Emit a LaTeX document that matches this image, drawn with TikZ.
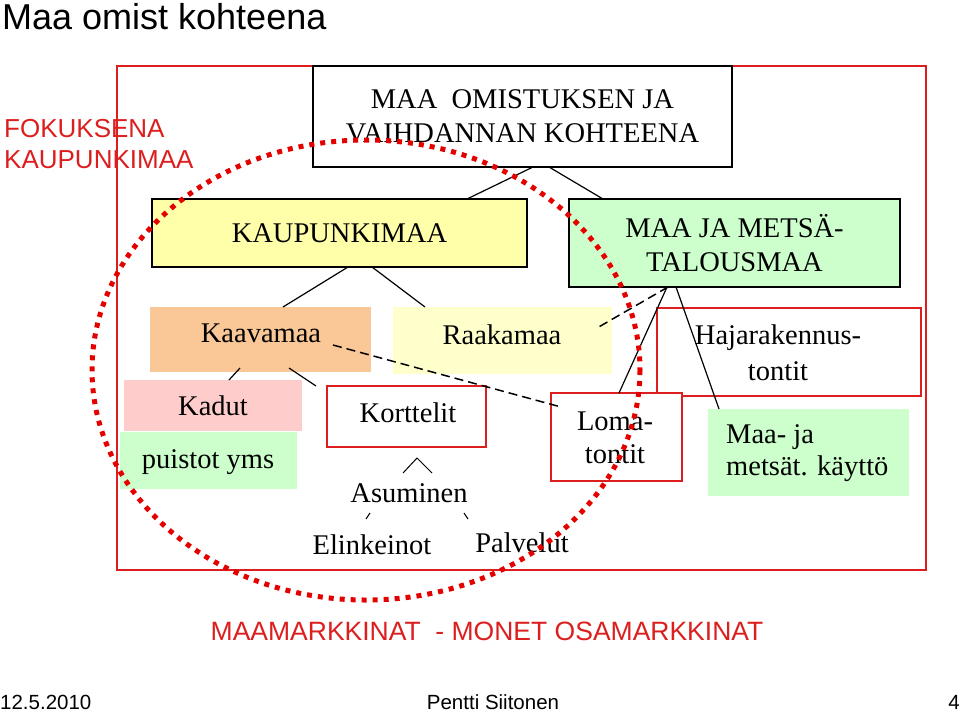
\documentclass[tikz,border=0pt]{standalone}
\usepackage{fontspec}
\setmainfont{Liberation Serif}
\newfontfamily\arial{Liberation Sans}
\definecolor{ly}{RGB}{255,255,170}
\definecolor{lly}{RGB}{255,255,204}
\definecolor{lg}{RGB}{204,255,204}
\definecolor{orng}{RGB}{250,200,150}
\definecolor{pnk}{RGB}{255,204,204}
\definecolor{rd}{RGB}{220,30,30}
\begin{document}
\begin{tikzpicture}[x=1pt,y=-1pt,
 bx/.style={draw=black,line width=1.2pt,inner sep=0pt,outer sep=0pt,align=center,font=\fontsize{28.5}{34}\selectfont},
 rbx/.style={draw=rd,line width=1.2pt,inner sep=0pt,outer sep=0pt},
 fbx/.style={inner sep=0pt,outer sep=0pt},
 txt/.style={inner sep=0pt,font=\fontsize{28.5}{34}\selectfont},
 ln/.style={line width=1.2pt},
 dl/.style={line width=1.5pt,dash pattern=on 9pt off 5pt}]
\useasboundingbox (0,0) rectangle (960,713);
\node[anchor=west,inner sep=0pt,font=\arial\fontsize{36}{40}\selectfont] (title) at (2,17) {Maa omist kohteena};
\draw[rd,line width=1.2pt] (117,66) rectangle (926,570);
\node[anchor=west,inner sep=0pt,align=left,text=rd,font=\arial\fontsize{26}{31}\selectfont] (fok) at (4,144) {FOKUKSENA\\KAUPUNKIMAA};
% boxes
\node[bx,fill=white,minimum width=419,minimum height=101] (top) at (522.5,116.5) {MAA \ OMISTUKSEN JA\\VAIHDANNAN KOHTEENA};
\node[bx,fill=ly,minimum width=375,minimum height=68] (kau) at (339.5,233) {KAUPUNKIMAA};
\node[bx,fill=lg,minimum width=331,minimum height=88] (mets) at (734.5,243) {MAA JA METSÄ-\\TALOUSMAA};
\node[fbx,fill=orng,minimum width=221,minimum height=65] (kaava) at (260.5,339.5) {};
\node[txt] at (261,333) {Kaavamaa};
\node[fbx,fill=lly,minimum width=219,minimum height=67] (raaka) at (502.5,340.5) {};
\node[txt] at (502,335) {Raakamaa};
\node[rbx,fill=white,minimum width=264,minimum height=88] (haja) at (789,352) {};
\node[txt,align=center,font=\fontsize{28.5}{36}\selectfont] at (778,353) {Hajarakennus-\\tontit};
\node[fbx,fill=pnk,minimum width=178,minimum height=51] (kadut) at (213,405.5) {};
\node[txt] at (213,406) {Kadut};
\node[fbx,fill=lg,minimum width=177,minimum height=57] (puisto) at (208.5,460.5) {};
\node[txt] at (208,462) {puistot yms};
\node[rbx,fill=white,minimum width=159,minimum height=61] (kort) at (406.5,416.5) {};
\node[txt] at (408,413) {Korttelit};
\node[rbx,fill=white,minimum width=131,minimum height=88] (loma) at (616.5,437) {};
\node[txt,align=center,font=\fontsize{28.5}{33}\selectfont] at (615,438) {Loma-\\tontit};
\node[fbx,fill=lg,minimum width=201,minimum height=87] (mjm) at (808.5,452.5) {};
\node[txt,align=left,font=\fontsize{28.5}{32}\selectfont,anchor=west] at (726,453) {Maa- ja\\metsät. käyttö};
\node[txt] (asu) at (409,493) {Asuminen};
\node[txt] (elin) at (372,545) {Elinkeinot};
\node[txt] (palv) at (522,543) {Palvelut};
% connectors
\draw[ln] (top.south -| 533,0) -- (kau.north -| 467,0);
\draw[ln] (top.south -| 549,0) -- (mets.north -| 603,0);
\draw[ln] (kau.south -| 348,0) -- (kaava.north -| 283,0);
\draw[ln] (kau.south -| 372,0) -- (raaka.north -| 425,0);
\coordinate (k1) at (240,368);
\coordinate (k2) at (289,368);
\draw[ln] (k1) -- (kadut.north -| 229,0);
\draw[ln] (k2) -- (kort.north west -| 316,0);
\draw[dl] (mets.south -| 668,0) -- (597,328);
\draw[ln] (mets.south -| 667,0) -- (loma.north -| 619,0);
\draw[ln] (mets.south -| 676,0) -- (mjm.north -| 719,0);
\draw[dl] (333,345) -- (561,407);
\draw[line width=1pt] (403,473) -- (417,458) -- (432,473);
\draw[line width=1pt] (366,519) -- (370,513);
\draw[line width=1pt] (464,513) -- (468,519);
% red dotted ellipse
\draw[red!90!black,line width=5pt,dash pattern=on 5pt off 6pt] (366,370) ellipse (274 and 230);
\node[text=rd,inner sep=0pt,font=\arial\fontsize{26.5}{30}\selectfont] (mm) at (487,631) {MAAMARKKINAT \ - MONET OSAMARKKINAT};
\node[anchor=west,inner sep=0pt,font=\arial\fontsize{20.5}{24}\selectfont] (d) at (0,702) {12.5.2010};
\node[inner sep=0pt,font=\arial\fontsize{20.5}{24}\selectfont] (p) at (493,702) {Pentti Siitonen};
\node[anchor=east,inner sep=0pt,font=\arial\fontsize{20.5}{24}\selectfont] (n) at (960,702) {4};
\end{tikzpicture}
\end{document}
